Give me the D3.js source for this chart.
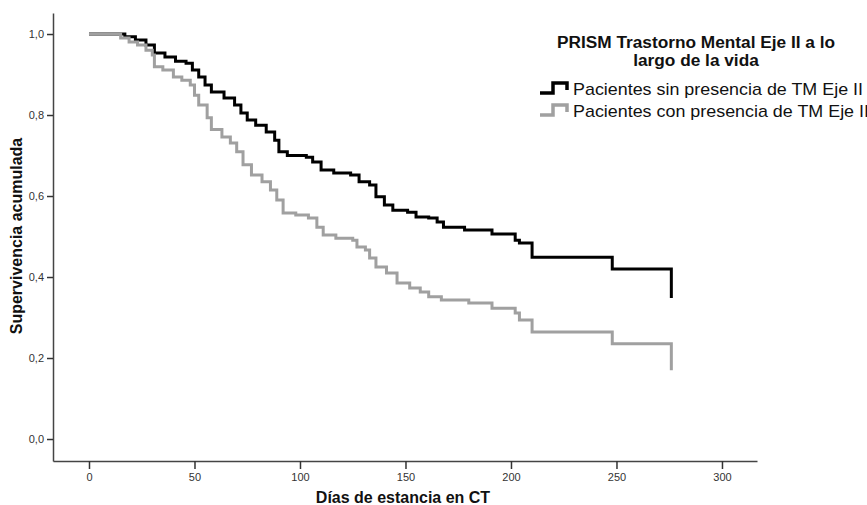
<!DOCTYPE html>
<html>
<head>
<meta charset="utf-8">
<script src="https://cdn.jsdelivr.net/npm/d3@7"></script>
<style>
  body { margin: 0; background: #fff; overflow: hidden; }
  text { font-family: "Liberation Sans", Arial, sans-serif; }
</style>
</head>
<body>
<div id="d3-container"></div>
<script>
// Kaplan-Meier steps (days, cumulative survival)
const sinDays = [0, 17, 22, 27, 31, 36, 41, 46, 49, 52, 55, 58, 64, 69, 72, 75, 79, 84, 88, 90, 94,
  103, 106, 110, 116, 124, 128, 133, 136, 140, 144, 151, 155, 161, 165, 168, 178, 191, 202, 204, 210, 248, 276];
const sinSurv = [1.0, 0.993, 0.985, 0.973, 0.953, 0.943, 0.933, 0.928, 0.911, 0.894, 0.874, 0.857, 0.842, 0.825, 0.805, 0.788, 0.775, 0.758, 0.738, 0.709, 0.700,
  0.696, 0.684, 0.664, 0.657, 0.652, 0.635, 0.627, 0.598, 0.578, 0.565, 0.560, 0.548, 0.546, 0.536, 0.523, 0.516, 0.506, 0.491, 0.484, 0.449, 0.420, 0.348];

const conDays = [0, 15, 19, 23, 27, 30, 31, 35, 40, 44, 48, 50, 52, 56, 58, 63, 67, 70, 73, 77, 82, 86, 89, 92, 98,
  104, 108, 111, 117, 125, 127, 131, 133, 136, 141, 146, 152, 157, 161, 167, 180, 191, 202, 204, 210, 248, 276];
const conSurv = [1.0, 0.990, 0.980, 0.973, 0.960, 0.948, 0.919, 0.911, 0.894, 0.886, 0.874, 0.849, 0.825, 0.793, 0.764, 0.746, 0.731, 0.709, 0.677, 0.652, 0.635, 0.615, 0.590, 0.558, 0.553,
  0.546, 0.523, 0.504, 0.496, 0.491, 0.474, 0.467, 0.447, 0.425, 0.410, 0.385, 0.373, 0.363, 0.351, 0.343, 0.336, 0.323, 0.311, 0.294, 0.264, 0.235, 0.170];

const xTicks = [0, 50, 100, 150, 200, 250, 300];
const yTicks = [0, 0.2, 0.4, 0.6, 0.8, 1.0];

const legendTitle = ["PRISM Trastorno Mental Eje II a lo", "largo de la vida"];
const seriesNames = ["Pacientes sin presencia de TM Eje II", "Pacientes con presencia de TM Eje II"];
const seriesColors = ["#000000", "#a0a0a0"];

const width = 867;
const height = 505;

const svg = d3.select('#d3-container')
    .append('svg')
    .attr('width', width)
    .attr('height', height);

const x = d3.scaleLinear()
    .domain([-17.06, 316.6])
    .range([53, 757]);

const y = d3.scaleLinear()
    .domain([-0.0543, 1.0519])
    .range([461, 13]);

const series = [
  { name: seriesNames[0], color: seriesColors[0], pts: sinDays.map((d, i) => [d, sinSurv[i]]) },
  { name: seriesNames[1], color: seriesColors[1], pts: conDays.map((d, i) => [d, conSurv[i]]) },
];

function xAxis(g) {
  g.attr("transform", `translate(0,${y.range()[0]})`)
    .call(d3.axisBottom(x).tickValues(xTicks).tickSize(8).tickSizeOuter(0).tickPadding(4))
    .call(g => g.select(".domain").attr("stroke", "#444").attr("stroke-width", 1.5))
    .call(g => g.selectAll(".tick line").attr("stroke", "#333").attr("stroke-width", 1.5))
    .call(g => g.selectAll(".tick text").attr("fill", "#333").attr("font-size", "11px")
      .attr("font-family", "'Liberation Sans', Arial, sans-serif"));
}

function yAxis(g) {
  g.attr("transform", `translate(${x.range()[0]},0)`)
    .call(d3.axisLeft(y).tickValues(yTicks).tickFormat(d => d.toFixed(1).replace('.', ','))
      .tickSize(6).tickSizeOuter(0).tickPadding(3))
    .call(g => g.select(".domain").attr("stroke", "#444").attr("stroke-width", 1.5))
    .call(g => g.selectAll(".tick line").attr("stroke", "#333").attr("stroke-width", 1.5))
    .call(g => g.selectAll(".tick text").attr("fill", "#333").attr("font-size", "11px")
      .attr("font-family", "'Liberation Sans', Arial, sans-serif"));
}

function xAxisLabel(g) {
  g.append("text")
    .attr("x", 403)
    .attr("y", 503)
    .attr("text-anchor", "middle")
    .attr("font-size", "16px")
    .attr("font-weight", "bold")
    .attr("fill", "#111")
    .text("Días de estancia en CT");
}

function yAxisLabel(g) {
  g.append("text")
    .attr("transform", "rotate(-90)")
    .attr("x", -236)
    .attr("y", 22)
    .attr("text-anchor", "middle")
    .attr("font-size", "16px")
    .attr("font-weight", "bold")
    .attr("fill", "#111")
    .text("Supervivencia acumulada");
}

const line = d3.line()
    .x(d => x(d[0]))
    .y(d => y(d[1]))
    .curve(d3.curveStepAfter);

function curves(g) {
  // gray drawn last so it sits on top where both are at 1,0
  g.selectAll("path")
    .data(series)
    .join("path")
    .attr("fill", "none")
    .attr("stroke", d => d.color)
    .attr("stroke-width", 3)
    .attr("d", d => line(d.pts));
}

// the legend type in the reference is a bit wider than Liberation Sans, stretch it to fit
function stretch(sel, target) {
  const k = target / sel.node().getComputedTextLength();
  sel.each(function() {
    d3.select(this)
      .attr("textLength", this.getComputedTextLength() * k)
      .attr("lengthAdjust", "spacingAndGlyphs");
  });
}

function legend(g) {
  const title = g.selectAll("text.title")
    .data(legendTitle)
    .join("text")
    .attr("class", "title")
    .attr("x", 696)
    .attr("y", (d, i) => 48 + i * 18)
    .attr("text-anchor", "middle")
    .attr("font-size", "16px")
    .attr("font-weight", "bold")
    .attr("fill", "#111")
    .text(d => d);
  stretch(title, 278);

  const item = g.selectAll("g.item")
    .data(series)
    .join("g")
    .attr("class", "item")
    .attr("transform", (d, i) => `translate(540,${95 + i * 22})`);

  item.append("path")
    .attr("d", "M0,-2H13V-12H27V-5")
    .attr("fill", "none")
    .attr("stroke", d => d.color)
    .attr("stroke-width", 3.5);

  const labels = item.append("text")
    .attr("x", 33)
    .attr("y", 0)
    .attr("font-size", "17px")
    .attr("fill", "#111")
    .text(d => d.name);
  stretch(labels, 290);
}

svg.append("g").call(xAxis);
svg.append("g").call(yAxis);
svg.append("g").call(xAxisLabel);
svg.append("g").call(yAxisLabel);
svg.append("g").call(curves);
svg.append("g").call(legend);
</script>
</body>
</html>
